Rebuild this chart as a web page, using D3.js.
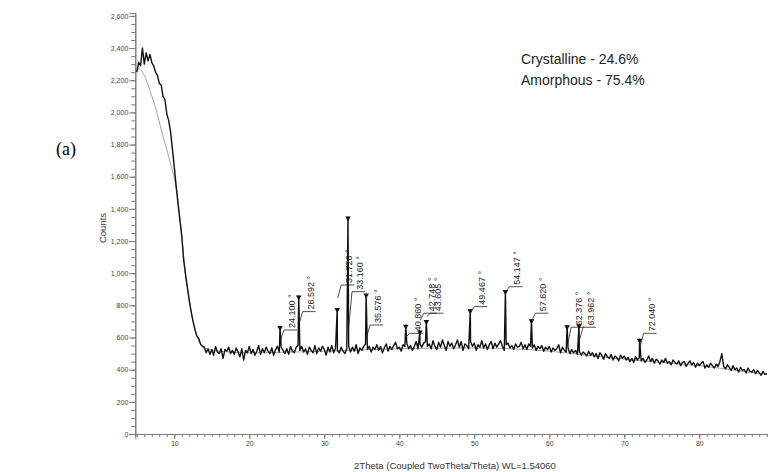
<!DOCTYPE html>
<html>
<head>
<meta charset="utf-8">
<script src="https://cdn.jsdelivr.net/npm/d3@7"></script>
<style>
  body { margin: 0; background: #fff; }
  svg { display: block; font-family: "Liberation Sans", Arial, sans-serif; }
</style>
</head>
<body>
<div id="chart"></div>
<script>
// scan: counts every 0.25 deg starting at 5.0 deg 2Theta
var scanStart = 5.0;
var scanStep = 0.25;
var scanCounts = [
    // 5.0 - 13.5
    2250, 2310, 2290, 2400, 2300, 2370, 2320, 2360, 2310, 2290, 2250, 2230,
    2180, 2170, 2100, 2080, 1990, 1950, 1880, 1770, 1660, 1540, 1430, 1330,
    1230, 1080, 990, 910, 830, 760, 700, 650, 610, 595, 560,
    // 13.75
    545,
    // 14 - 88 (one row per degree)
    540, 505, 530, 495,
    525, 490, 545, 510,
    500, 530, 470, 525,
    515, 540, 500, 520,
    495, 535, 510, 480,
    530, 460, 520, 505,
    545, 500, 525, 490,
    515, 550, 495, 530,
    505, 540, 515, 500,
    535, 490, 525, 545,
    510, 540, 520, 500,
    530, 495, 545, 515,
    505, 540, 550, 520,
    545, 510, 530, 495,
    540, 520, 505, 550,
    500, 535, 515, 545,
    525, 490, 540, 510,
    550, 505, 535, 520,
    505, 540, 515, 500,
    530, 545, 510, 540,
    515, 555, 500, 535,
    520, 545, 560, 525,
    545, 510, 540, 525,
    555, 520, 545, 505,
    535, 560, 515, 545,
    525, 550, 570, 530,
    540, 515, 555, 545,
    565, 530, 550, 520,
    545, 575, 530, 560,
    540, 565, 575, 545,
    560, 530, 580, 545,
    525, 570, 540, 585,
    550, 520, 575, 545,
    565, 530, 555, 585,
    540, 575, 520, 560,
    550, 530, 575, 545,
    565, 520, 555, 540,
    580, 535, 560, 525,
    555, 575, 530, 565,
    540, 560, 580, 545,
    520, 555, 565, 535,
    550, 525, 560, 540,
    545, 570, 530, 555,
    525, 560, 545, 535,
    555, 520, 545, 530,
    550, 515, 540, 525,
    545, 510, 535, 520,
    530, 555, 505, 540,
    520, 510, 535, 500,
    525, 505, 520, 495,
    515, 490, 510, 500,
    485, 515, 490, 505,
    480, 500, 470, 505,
    490, 465, 500, 480,
    470, 495, 460, 485,
    475, 455, 490, 470,
    485, 460, 475, 450,
    470, 445, 480, 460,
    475, 455, 470, 445,
    460, 485, 450, 470,
    440, 465, 455, 435,
    460, 445, 470, 440,
    450, 430, 460, 445,
    435, 455, 425, 445,
    450, 420, 440, 455,
    430, 445, 415, 440,
    425, 440, 450, 410,
    430, 415, 440, 425,
    410, 435, 420, 450,
    500, 420, 405, 430,
    415, 395, 425, 400,
    410, 385, 415, 395,
    400, 380, 410, 390,
    385, 400, 375, 395,
    380, 365, 390, 370,
    375
];

// identified peaks
var peakTheta   = [24.100, 26.592, 31.726, 33.160, 35.576, 40.860, 42.748, 43.605, 49.467, 54.147, 57.620, 62.376, 63.962, 72.040];
var peakCounts  = [667, 858, 779, 1348, 869, 676, 640, 705, 771, 891, 709, 672, 678, 589];
var labelCounts = [647, 761, 927, 885, 678, 626, 751, 751, 792, 916, 751, 664, 664, 626];
var leaderCounts = [585, 690, 846, 647, 605, 605, 709, 730, 761, 885, 709, 554, 585, 543];

// amorphous hump fit (grey)
var fitTheta  = [5, 5.5, 6, 6.5, 7, 7.5, 8, 8.5, 9, 9.5, 10, 10.5, 11, 11.5, 12, 12.5, 13, 14, 16, 20, 30, 40, 50, 55, 60, 65, 70, 75, 80, 85, 89];
var fitCounts = [2275, 2265, 2230, 2170, 2100, 2030, 1940, 1850, 1770, 1680, 1590, 1450, 1230, 990, 830, 700, 610, 535, 515, 505, 515, 530, 535, 530, 515, 490, 465, 445, 425, 395, 370];

var yTicks = d3.range(0, 2601, 200);
var yMinor = d3.range(0, 2601, 50);
var xTicks = [10, 20, 30, 40, 50, 60, 70, 80];
var xMinor = d3.range(5, 90, 1);

var width = 768, height = 472;

var svg = d3.select("#chart").append("svg")
    .attr("width", width)
    .attr("height", height);

var x = d3.scaleLinear().domain([4.8, 89.16]).range([135.3, 768]);
var y = d3.scaleLinear().domain([0, 2618]).range([434, 13]);

// build line data: scan points + peak tops
var scan = scanCounts.map(function(c, i) {
    return {t: scanStart + i * scanStep, c: c};
});
peakTheta.forEach(function(t, i) {
    scan.push({t: t, c: peakCounts[i]});
});
scan.sort(function(a, b) { return a.t - b.t; });

var fit = fitTheta.map(function(t, i) { return {t: t, c: fitCounts[i]}; });

var axisColor = "#7a7a7a";

// minor ticks first
svg.append("g")
    .attr("class", "yMinor")
    .attr("transform", "translate(" + x(4.8) + ",0)")
    .call(d3.axisLeft(y).tickValues(yMinor).tickSize(4).tickFormat(""));

svg.append("g")
    .attr("class", "xMinor")
    .attr("transform", "translate(0," + y(0) + ")")
    .call(d3.axisBottom(x).tickValues(xMinor).tickSize(3).tickFormat(""));

svg.append("g")
    .attr("class", "yAxis")
    .attr("transform", "translate(" + x(4.8) + ",0)")
    .call(d3.axisLeft(y).tickValues(yTicks).tickSize(6).tickPadding(1).tickFormat(d3.format(",")));

svg.append("g")
    .attr("class", "xAxis")
    .attr("transform", "translate(0," + y(0) + ")")
    .call(d3.axisBottom(x).tickValues(xTicks).tickSize(5).tickPadding(2));

svg.selectAll(".xAxis, .yAxis, .xMinor, .yMinor").selectAll("path, line")
    .attr("stroke", axisColor);
svg.selectAll(".xAxis text, .yAxis text")
    .attr("fill", "#444")
    .style("font-size", "7px");

// axis titles
svg.append("text")
    .attr("transform", "translate(106,228) rotate(-90)")
    .attr("text-anchor", "middle")
    .style("font-size", "9.5px")
    .attr("fill", "#333")
    .text("Counts");

svg.append("text")
    .attr("x", 455).attr("y", 469)
    .attr("text-anchor", "middle")
    .style("font-size", "9.5px")
    .attr("fill", "#333")
    .text("2Theta (Coupled TwoTheta/Theta) WL=1.54060");

// grey amorphous fit
var fitLine = d3.line()
    .x(function(d) { return x(d.t); })
    .y(function(d) { return y(d.c); })
    .curve(d3.curveMonotoneX);

svg.append("path")
    .datum(fit)
    .attr("d", fitLine)
    .attr("fill", "none")
    .attr("stroke", "#9a9a9a")
    .attr("stroke-width", 0.9);

// measured scan
var scanLine = d3.line()
    .x(function(d) { return x(d.t); })
    .y(function(d) { return y(d.c); });

svg.append("path")
    .datum(scan)
    .attr("d", scanLine)
    .attr("fill", "none")
    .attr("stroke", "#111")
    .attr("stroke-width", 1.4)
    .attr("stroke-linejoin", "round");

// peak markers + labels
var peaks = peakTheta.map(function(t, i) {
    return {t: t, c: peakCounts[i], lab: labelCounts[i], lead: leaderCounts[i]};
});

var pg = svg.append("g").attr("class", "peaks");
var tri = d3.symbol().type(d3.symbolTriangle).size(14);

peaks.forEach(function(p) {
    var px = x(p.t);
    var dx = 4, barLen = 13;
    pg.append("path")
        .attr("d", tri)
        .attr("transform", "translate(" + px + "," + (y(p.c) + 1) + ") rotate(180)")
        .attr("fill", "#111");
    pg.append("line")
        .attr("x1", px + 0.5).attr("y1", y(p.lead))
        .attr("x2", px + dx).attr("y2", y(p.lab))
        .attr("stroke", "#222").attr("stroke-width", 0.8);
    pg.append("line")
        .attr("x1", px + dx).attr("y1", y(p.lab))
        .attr("x2", px + dx + barLen).attr("y2", y(p.lab))
        .attr("stroke", "#222").attr("stroke-width", 0.8);
    pg.append("text")
        .attr("transform", "translate(" + (px + dx + 11) + "," + (y(p.lab) - 2) + ") rotate(-90)")
        .style("font-size", "9px")
        .attr("fill", "#222")
        .text(p.t.toFixed(3) + " °");
});

// phase percentages
svg.append("text")
    .attr("x", 521).attr("y", 64)
    .style("font-size", "14px")
    .attr("fill", "#222")
    .text("Crystalline - 24.6%");
svg.append("text")
    .attr("x", 521).attr("y", 85)
    .style("font-size", "14px")
    .attr("fill", "#222")
    .text("Amorphous - 75.4%");

// panel tag
svg.append("text")
    .attr("x", 56).attr("y", 155)
    .style("font-family", "'Liberation Serif', 'Times New Roman', serif")
    .style("font-size", "18px")
    .attr("fill", "#000")
    .text("(a)");
</script>
</body>
</html>
